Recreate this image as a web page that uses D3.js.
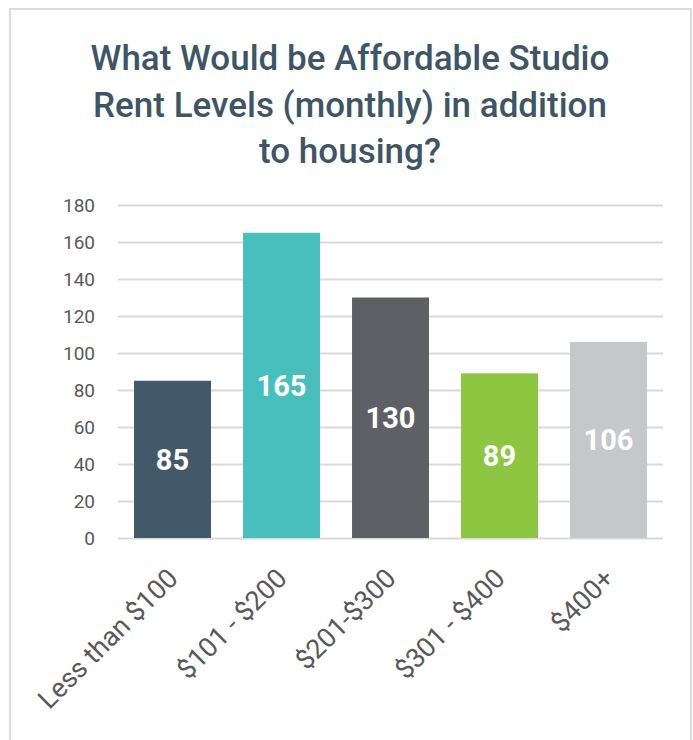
<!DOCTYPE html>
<html lang="en">
<meta charset="utf-8">
<head>
    <script src="https://d3js.org/d3.v7.min.js"></script>
    <style>
        body { margin: 0; background: #fff; }
        text { font-family: Roboto, "Noto Sans", sans-serif; }
    </style>
</head>
<body>
<script>
    // data
    var categories = ["Less than $100", "$101 - $200", "$201-$300", "$301 - $400", "$400+"];
    var counts = [85, 165, 130, 89, 106];
    var barColors = ["#435868", "#47bfbd", "#5f6066", "#8dc641", "#c5c8cb"];
    var yTicks = [0, 20, 40, 60, 80, 100, 120, 140, 160, 180];
    var titleLines = ["What Would be Affordable Studio", "Rent Levels (monthly) in addition", "to housing?"];

    var width = 693, height = 740;

    var svg = d3.select("body")
        .append("svg")
        .attr("width", width)
        .attr("height", height);

    // light frame round the chart
    svg.append("rect")
        .attr("x", 10)
        .attr("y", 9)
        .attr("width", 681)
        .attr("height", 760)
        .attr("fill", "#fff")
        .attr("stroke", "#dcdcdc")
        .attr("stroke-width", 2);

    // title
    svg.append("g")
        .selectAll("text")
        .data(titleLines)
        .enter()
        .append("text")
        .attr("x", 350)
        .attr("y", function(d, i) { return 70 + i * 46.5; })
        .attr("text-anchor", "middle")
        .style("font-size", "35px")
        .style("font-weight", 500)
        .style("fill", "#3e5566")
        .text(function(d) { return d; });

    var plotLeft = 118, plotRight = 663, plotTop = 205, plotBottom = 538;

    var x = d3.scaleBand()
        .domain(categories)
        .range([plotLeft, plotRight])
        .paddingInner(0.294)
        .paddingOuter(0.147);

    var y = d3.scaleLinear()
        .domain([0, 180])
        .range([plotBottom, plotTop]);

    // grid + y labels
    var yaxis = svg.append("g")
        .attr("transform", "translate(" + plotLeft + ",0)")
        .call(d3.axisLeft(y)
            .tickValues(yTicks)
            .tickSize(-(plotRight - plotLeft))
            .tickPadding(23));

    yaxis.select(".domain").remove();
    yaxis.selectAll("line")
        .attr("stroke", "#dadada")
        .attr("stroke-width", 2);
    yaxis.selectAll("text")
        .style("font-size", "19px")
        .style("fill", "#595959");

    // bars
    var bar = svg.selectAll(".bar")
        .data(counts)
        .enter()
        .append("g")
        .attr("class", "bar");

    bar.append("rect")
        .attr("x", function(d, i) { return x(categories[i]); })
        .attr("y", function(d) { return y(d); })
        .attr("width", x.bandwidth())
        .attr("height", function(d) { return plotBottom - y(d); })
        .style("fill", function(d, i) { return barColors[i]; });

    bar.append("text")
        .attr("x", function(d, i) { return x(categories[i]) + x.bandwidth() / 2; })
        .attr("y", function(d) { return (y(d) + plotBottom) / 2; })
        .attr("dy", "0.36em")
        .attr("text-anchor", "middle")
        .style("font-size", "29px")
        .style("font-weight", "bold")
        .style("fill", "#fff")
        .text(function(d) { return d; });

    // rotated category labels
    svg.append("g")
        .selectAll("text")
        .data(categories)
        .enter()
        .append("text")
        .attr("transform", function(d) {
            var cx = x(d) + x.bandwidth() / 2;
            return "translate(" + (cx + 7) + "," + 580 + ") rotate(-45)";
        })
        .attr("text-anchor", "end")
        .style("font-size", "27px")
        .style("fill", "#595959")
        .text(function(d) { return d; });
</script>
</body>
</html>
